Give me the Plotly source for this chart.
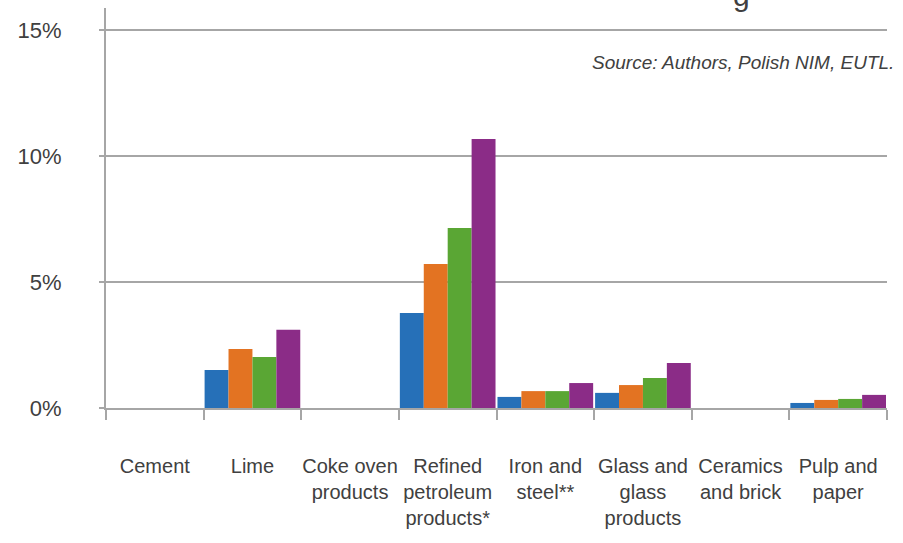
import plotly.graph_objects as go

categories = ["Cement", "Lime", "Coke oven<br>products", "Refined<br>petroleum<br>products*",
              "Iron and<br>steel**", "Glass and<br>glass<br>products", "Ceramics<br>and brick", "Pulp and<br>paper"]
series_names = ["Series 1", "Series 2", "Series 3", "Series 4"]
s1 = [0, 1.51, 0, 3.77, 0.44, 0.60, 0, 0.20]
s2 = [0, 2.34, 0, 5.71, 0.67, 0.91, 0, 0.32]
s3 = [0, 2.02, 0, 7.14, 0.67, 1.19, 0, 0.36]
s4 = [0, 3.10, 0, 10.67, 0.99, 1.79, 0, 0.52]
colors = ["#2670B8", "#E37322", "#5AA634", "#8B2C87"]
y_ticks = [0, 5, 10, 15]
y_tick_labels = ["0%", "5%", "10%", "15%"]

FONT = "Liberation Sans, Arial, sans-serif"
TXT = "#404040"
GRID = "#A6A6A6"

fig = go.Figure()
for name, vals, col in zip(series_names, [s1, s2, s3, s4], colors):
    fig.add_trace(go.Bar(x=categories, y=vals, name=name, marker=dict(color=col, line=dict(width=0))))

fig.update_layout(
    width=903, height=543,
    margin=dict(l=106, r=16, t=8, b=135),
    paper_bgcolor="white", plot_bgcolor="white",
    barmode="group", bargap=0.02, bargroupgap=0,
    showlegend=False,
    font=dict(family=FONT, color=TXT, size=20),
)
fig.update_xaxes(
    type="category", tickson="boundaries", ticks="outside", ticklen=10, tickwidth=2, tickcolor=GRID,
    showline=True, linecolor=GRID, linewidth=2, showgrid=False, tickangle=0, automargin=False,
    tickfont=dict(family=FONT, size=20, color=TXT), ticklabelstandoff=39,
)
fig.update_yaxes(
    range=[0, 15.87], tickvals=y_ticks, ticktext=y_tick_labels, ticks="outside", ticklen=5, tickwidth=2,
    tickcolor=GRID, automargin=False,
    showline=True, linecolor=GRID, linewidth=2, showgrid=True, gridcolor=GRID, gridwidth=1.5,
    zeroline=False, tickfont=dict(family=FONT, size=22, color=TXT), ticklabelstandoff=33,
)
fig.add_annotation(
    text="<i>Source: Authors, Polish NIM, EUTL.</i>", xref="paper", yref="paper",
    x=1.0115, y=0.865, xanchor="right", yanchor="middle", showarrow=False,
    font=dict(family=FONT, size=19, color=TXT),
)
fig.add_annotation(
    text="g", xref="paper", yref="paper", x=0.814, y=1.03, xanchor="center", yanchor="middle",
    showarrow=False, font=dict(family=FONT, size=30, color=TXT),
)
fig.write_html("out.html")
